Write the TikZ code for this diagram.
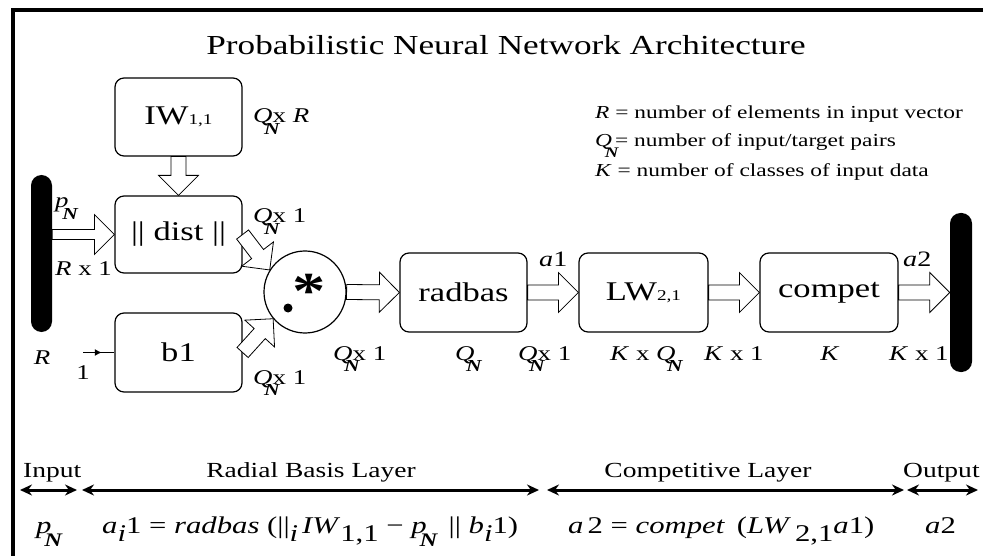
\documentclass[tikz,border=0pt]{standalone}
\usepackage{graphicx}
\usepackage{fontspec}
\setmainfont{Liberation Serif}[FakeStretch=1.28]
\usetikzlibrary{calc,arrows.meta,decorations.markings}

\newcommand{\fsz}[1]{\fontsize{#1}{#1}\selectfont}
\newcommand{\QN}{\textit{Q}\rlap{\kern-0.4em\raisebox{-0.55em}{\scalebox{0.8}{\textbf{\textit{N}}}}}}
\newcommand{\pN}{\textit{p}\rlap{\kern-0.3em\raisebox{-0.55em}{\scalebox{0.8}{\textbf{\textit{N}}}}}}
\newcommand{\lowsub}[1]{\raisebox{-0.35em}{#1}}

\tikzset{
  box/.style={draw, line width=1.2pt, rounded corners=9pt, minimum width=127pt,
    minimum height=78pt, font=\fsz{27}, inner sep=0pt},
  bar/.style={fill=black, rounded corners=10.5pt, minimum width=21pt, inner sep=0pt},
  dim/.style={font=\fsz{21}, inner sep=0pt},
  shaftw/.store in=\shaftw, shaftw=7.5pt,
  fat/.style={draw, line width=0.8pt, fill=white, to path={
    let \p1=(\tikztostart), \p2=(\tikztotarget), \n1={atan2(\y2-\y1,\x2-\x1)} in
    ($(\p1)+(\n1+90:\shaftw)$) -- ($(\p2)+(\n1+180:20pt)+(\n1+90:\shaftw)$)
    -- ($(\p2)+(\n1+180:20pt)+(\n1+90:20pt)$) -- (\p2)
    -- ($(\p2)+(\n1+180:20pt)+(\n1-90:20pt)$) -- ($(\p2)+(\n1+180:20pt)+(\n1-90:\shaftw)$)
    -- ($(\p1)+(\n1-90:\shaftw)$) -- cycle}},
  span/.style={{Stealth[length=12pt,width=11pt]}-{Stealth[length=12pt,width=11pt]}, line width=3pt},
}

\begin{document}
\begin{tikzpicture}[x=1pt,y=-1pt]
\useasboundingbox (0,0) rectangle (983,556);
\draw[line width=4pt] (13,556) -- (13,10) -- (983,10);

\node[font=\fsz{27.5}, anchor=base, inner sep=0pt] (title) at (506,55) {Probabilistic Neural Network Architecture};

% blocks
\node[bar, minimum height=157pt] (inbar) at (41.5,253.5) {};
\node[bar, minimum height=159pt, minimum width=22pt] (outbar) at (961,292.5) {};
\node[box] (iw) at (178.5,117) {IW{\fsz{15}1,1}};
\node[box, minimum height=77pt] (dist) at (178.5,234.5) {|| dist ||};
\node[box, minimum height=79pt] (bone) at (178.5,352.5) {b1};
\node[draw, line width=1.2pt, circle, minimum size=82pt, inner sep=0pt] (circ) at (305,292) {};
\node[box, minimum height=79pt] (radbas) at (463.5,292.5) {radbas};
\node[box, minimum height=79pt, minimum width=129pt] (lw) at (643.5,292.5) {LW{\fsz{15}2,1}};
\node[box, minimum height=79pt, minimum width=138pt] (compet) at (829,292.5) {compet};
\node[font=\fsz{52}\bfseries, inner sep=0pt] (star) at (309,291) {*};
\fill (288,308) circle (4.5);

% connectors
\draw[fat] (iw.south) to (dist.north);
\draw[fat, shaftw=5pt] (inbar.east |- dist.west) to (dist.west);
\draw[fat] (dist.east) to (circ.148);
\draw[fat] (bone.east) to (circ.220);
\draw[fat] (circ.east) to (radbas.west);
\draw[fat] (radbas.east) to (lw.west);
\draw[fat] (lw.east) to (compet.west);
\draw[fat] (compet.east) to (outbar.west |- compet.east);
\coordinate (one) at (83,352.5);
\draw[line width=1.5pt, postaction={decorate}, decoration={markings,
  mark=at position 0.6 with {\arrow{Latex[length=7pt,width=7pt]}}}] (one) -- (bone.west);

% sizes
\node[dim, anchor=base west] (qr) at (253,123) {\QN x \textit{R}};
\node[dim, anchor=base west] (pin) at (55,208) {\pN};
\node[dim, anchor=base west] (rx) at (55,276) {\textit{R} x 1};
\node[dim, anchor=base west] (qd) at (253,223) {\QN x 1};
\node[dim, anchor=base west] (qb) at (253,384) {\QN x 1};
\node[dim] (rr) at (42,358) {\textit{R}};
\node[dim] (n1) at (83,373) {1};
\node[dim, anchor=base west] (qc) at (333,360) {\QN x 1};
\node[dim, anchor=base west] (qrad) at (455,360) {\QN};
\node[dim, anchor=base west] (qa) at (518,360) {\QN x 1};
\node[dim, anchor=base west] (kq) at (610,360) {\textit{K} x \QN};
\node[dim, anchor=base west] (ka) at (704,360) {\textit{K} x 1};
\node[dim, anchor=base] (kk) at (830,360) {\textit{K}};
\node[dim, anchor=base west] (kb) at (889,360) {\textit{K} x 1};
\node[dim, font=\fsz{22}, anchor=base west] (aone) at (539,266) {\textit{a}1};
\node[dim, font=\fsz{22}, anchor=base west] (atwo) at (903,266) {\textit{a}2};

% legend
\node[dim, font=\fsz{18.3}, anchor=base west] (leg1) at (595,119) {\textit{R} = number of elements in input vector};
\node[dim, font=\fsz{18.3}, anchor=base west] (leg2) at (595,147) {\QN\,= number of input/target pairs};
\node[dim, font=\fsz{18.3}, anchor=base west] (leg3) at (595,177) {\textit{K} = number of classes of input data};

% layers
\coordinate (s0) at (20,490); \coordinate (s1) at (77,490);
\coordinate (s2) at (82,490); \coordinate (s3) at (539,490);
\coordinate (s4) at (547,490); \coordinate (s5) at (904,490);
\coordinate (s6) at (907,490); \coordinate (s7) at (978,490);
\draw[span] (s0) -- (s1);
\draw[span] (s2) -- (s3);
\draw[span] (s4) -- (s5);
\draw[span] (s6) -- (s7);
\node[dim, font=\fsz{21.5}, anchor=base west] (lin) at (23,477) {Input};
\node[dim, font=\fsz{21.5}, anchor=base] (lrad) at (311,477) {Radial Basis Layer};
\node[dim, font=\fsz{21.5}, anchor=base] (lcomp) at (708,477) {Competitive Layer};
\node[dim, font=\fsz{21.5}, anchor=base west] (lout) at (903,477) {Output};

% equations
\node[dim, font=\fsz{24}, anchor=base west] (epn) at (36,533) {\pN};
\node[dim, font=\fsz{24}, anchor=base west] (erad) at (102,533)
  {\textit{a}\lowsub{\textit{i}}1 = \textit{radbas} (||\lowsub{\textit{i}}\,\textit{IW}\lowsub{1,1} − \pN\hphantom{\textit{N}}|| \textit{b}\lowsub{\textit{i}}1)};
\node[dim, font=\fsz{24}, anchor=base west] (ecomp) at (568,533)
  {\textit{a}\,2 = \textit{compet}\enspace (\textit{LW}\,\lowsub{2,1}\textit{a}1)};
\node[dim, font=\fsz{24}, anchor=base west] (eout) at (925,533) {\textit{a}2};
\end{tikzpicture}
\end{document}
